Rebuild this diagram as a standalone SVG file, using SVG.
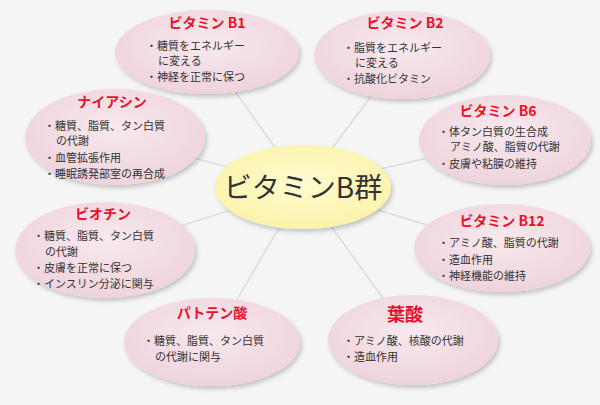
<svg xmlns="http://www.w3.org/2000/svg" width="600" height="405" viewBox="0 0 600 405">
<defs>
<radialGradient id="pk" cx="50%" cy="40%" r="60%"><stop offset="0" stop-color="#f7e9ee"/><stop offset="1" stop-color="#efd3dc"/></radialGradient>
<radialGradient id="yl" cx="50%" cy="45%" r="60%"><stop offset="0" stop-color="#fffbd0"/><stop offset="1" stop-color="#fbf2a8"/></radialGradient>
<filter id="sh" x="-10%" y="-10%" width="125%" height="130%"><feDropShadow dx="2" dy="3" stdDeviation="2" flood-color="#000" flood-opacity="0.2"/></filter>
</defs>
<style>
.n{fill:url(#pk);filter:url(#sh)}
.t{font-family:"Noto Sans CJK JP",sans-serif;font-weight:bold;font-size:14px;fill:#e8102a;text-anchor:middle}
.b{font-family:"Noto Sans CJK JP",sans-serif;font-size:11px;fill:#333}
.c line{stroke:#dcdcdc;stroke-width:1.5}
</style>
<rect width="600" height="405" fill="#f5f5f5"/>
<g class="c">
<line x1="303" y1="187" x2="207" y2="52"/>
<line x1="303" y1="187" x2="402" y2="55"/>
<line x1="303" y1="187" x2="115" y2="137"/>
<line x1="303" y1="187" x2="505" y2="140"/>
<line x1="303" y1="187" x2="105" y2="250"/>
<line x1="303" y1="187" x2="502" y2="248"/>
<line x1="303" y1="187" x2="212" y2="342"/>
<line x1="303" y1="187" x2="413" y2="340"/>
</g>
<g id="b1"><ellipse class="n" cx="207" cy="52" rx="92" ry="42"/><text class="t" x="207" y="28">ビタミン B1</text><text class="b" x="146" y="50">・糖質をエネルギー</text><text class="b" x="158" y="65">に変える</text><text class="b" x="146" y="81">・神経を正常に保つ</text></g>
<g id="b2"><ellipse class="n" cx="402" cy="55" rx="88" ry="44"/><text class="t" x="405" y="28">ビタミン B2</text><text class="b" x="343" y="52">・脂質をエネルギー</text><text class="b" x="355" y="67">に変える</text><text class="b" x="343" y="83">・抗酸化ビタミン</text></g>
<g id="niacin"><ellipse class="n" cx="115" cy="137" rx="90" ry="48"/><text class="t" x="112" y="107">ナイアシン</text><text class="b" x="44" y="130">・糖質、脂質、タン白質</text><text class="b" x="56" y="145">の代謝</text><text class="b" x="44" y="162">・血管拡張作用</text><text class="b" x="44" y="178">・睡眠誘発部室の再合成</text></g>
<g id="b6"><ellipse class="n" cx="505" cy="140" rx="86" ry="45"/><text class="t" x="498" y="116">ビタミン B6</text><text class="b" x="438" y="136">・体タン白質の生合成</text><text class="b" x="450" y="151">アミノ酸、脂質の代謝</text><text class="b" x="438" y="168">・皮膚や粘膜の維持</text></g>
<g id="center"><ellipse cx="303" cy="187" rx="88" ry="42" fill="url(#yl)" filter="url(#sh)"/><text x="303" y="198" text-anchor="middle" font-family="Noto Sans CJK JP,sans-serif" font-size="28" fill="#333">ビタミンB群</text></g>
<g id="biotin"><ellipse class="n" cx="105" cy="250" rx="90" ry="48"/><text class="t" x="103" y="219">ビオチン</text><text class="b" x="33" y="240">・糖質、脂質、タン白質</text><text class="b" x="45" y="256">の代謝</text><text class="b" x="33" y="272">・皮膚を正常に保つ</text><text class="b" x="33" y="288">・インスリン分泌に関与</text></g>
<g id="b12"><ellipse class="n" cx="502" cy="248" rx="88" ry="44"/><text class="t" x="502" y="226">ビタミン B12</text><text class="b" x="438" y="247">・アミノ酸、脂質の代謝</text><text class="b" x="438" y="264">・造血作用</text><text class="b" x="438" y="280">・神経機能の維持</text></g>
<g id="panto"><ellipse class="n" cx="212" cy="342" rx="88" ry="44"/><text class="t" x="212" y="318">パトテン酸</text><text class="b" x="143" y="345">・糖質、脂質、タン白質</text><text class="b" x="155" y="361">の代謝に関与</text></g>
<g id="folic"><ellipse class="n" cx="413" cy="340" rx="85" ry="45"/><text class="t" x="405" y="321" style="font-size:18px">葉酸</text><text class="b" x="343" y="345">・アミノ酸、核酸の代謝</text><text class="b" x="343" y="361">・造血作用</text></g>
</svg>
